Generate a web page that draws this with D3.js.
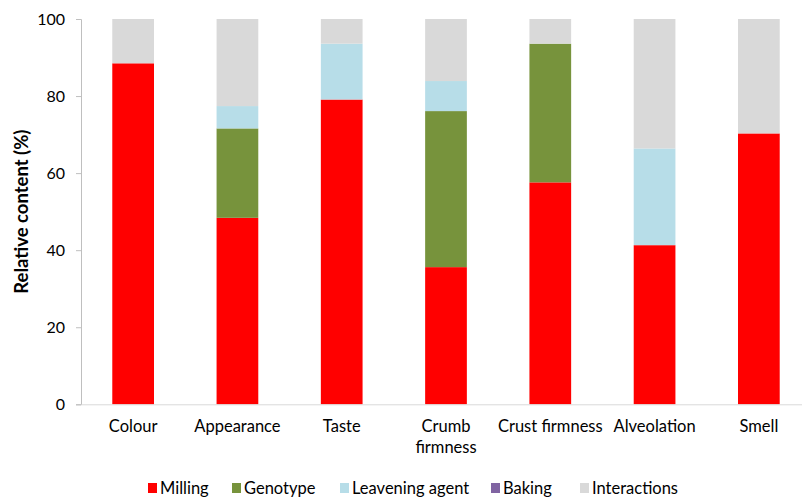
<!DOCTYPE html>
<html>
<head>
<meta charset="utf-8">
<script src="https://cdn.jsdelivr.net/npm/d3@7"></script>
<style>
  body { margin: 0; background: #fff; }
  svg text { font-family: Lato, "Open Sans", sans-serif; fill: #000; }
</style>
</head>
<body>
<div id="chart"></div>
<script>
(function(d3) {
  'use strict';

  var categories = ['Colour', 'Appearance', 'Taste', 'Crumb firmness', 'Crust firmness', 'Alveolation', 'Smell'];
  var series = ['Milling', 'Genotype', 'Leavening agent', 'Baking', 'Interactions'];
  var milling = [88.5, 48.4, 79.1, 35.6, 57.6, 41.3, 70.3];
  var genotype = [0, 23.2, 0, 40.5, 36.0, 0, 0];
  var leavening = [0, 5.8, 14.5, 7.8, 0, 25.1, 0];
  var baking = [0, 0, 0, 0, 0, 0, 0];
  var interactions = [11.5, 22.6, 6.4, 16.1, 6.4, 33.6, 29.7];
  var yTicks = [0, 20, 40, 60, 80, 100];

  var colorMap = {
    'Milling': '#ff0000',
    'Genotype': '#77933c',
    'Leavening agent': '#b7dde8',
    'Baking': '#8064a2',
    'Interactions': '#d9d9d9'
  };

  var width = 802, height = 498;
  var left = 81, right = 811, top = 19, bottom = 404.3;
  var fontSize = '16.5px';

  var rows = categories.map(function(c, i) {
    return {
      cat: c,
      'Milling': milling[i],
      'Genotype': genotype[i],
      'Leavening agent': leavening[i],
      'Baking': baking[i],
      'Interactions': interactions[i]
    };
  });

  var svg = d3.select('#chart').append('svg')
    .attr('width', width)
    .attr('height', height);

  var x = d3.scaleBand().domain(categories).range([left, right]).paddingInner(0.6).paddingOuter(0.3);
  var y = d3.scaleLinear().domain([0, 100]).range([bottom, top]);

  var stacked = d3.stack().keys(series)(rows);

  // bars
  svg.append('g').selectAll('g').data(stacked).enter().append('g')
    .attr('fill', function(d) { return colorMap[d.key]; })
    .selectAll('rect').data(function(d) { return d; }).enter().append('rect')
    .attr('x', function(d) { return x(d.data.cat); })
    .attr('width', x.bandwidth())
    .attr('y', function(d) { return y(d[1]); })
    .attr('height', function(d) { return y(d[0]) - y(d[1]); });

  // y axis
  var yAxis = svg.append('g')
    .attr('transform', 'translate(' + left + ',0)')
    .call(d3.axisLeft(y).tickValues(yTicks).tickSize(5).tickPadding(11));
  yAxis.select('.domain').attr('stroke', '#bfbfbf');
  yAxis.selectAll('.tick line').attr('stroke', '#bfbfbf');
  yAxis.selectAll('.tick text').style('font-size', '16px');

  // x axis
  var xAxis = svg.append('g')
    .attr('transform', 'translate(0,' + bottom + ')')
    .call(d3.axisBottom(x).tickSize(0).tickPadding(16));
  xAxis.select('.domain').attr('stroke', '#d9d9d9');
  xAxis.selectAll('.tick text').style('font-size', fontSize)
    .each(function(d) {
      if (d === 'Crumb firmness') {
        var t = d3.select(this);
        t.text(null);
        t.append('tspan').attr('x', 0).attr('dy', '0.71em').text('Crumb');
        t.append('tspan').attr('x', 0).attr('dy', '1.25em').text('firmness');
        t.attr('dy', null);
      }
    });

  // y title
  svg.append('text')
    .attr('transform', 'translate(28,' + ((top + bottom) / 2) + ') rotate(-90)')
    .attr('text-anchor', 'middle')
    .style('font-size', '18.5px')
    .style('font-weight', 'bold')
    .text('Relative content (%)');

  // legend
  var legendX = [148, 232, 340, 491, 580];
  var lg = svg.append('g').selectAll('g').data(series).enter().append('g')
    .attr('transform', function(d, i) { return 'translate(' + legendX[i] + ',488)'; });
  lg.append('rect')
    .attr('x', 0).attr('y', -5)
    .attr('width', 9).attr('height', 10)
    .attr('fill', function(d) { return colorMap[d]; });
  lg.append('text')
    .attr('x', 12).attr('dy', '0.35em')
    .style('font-size', fontSize)
    .text(function(d) { return d; });
}(d3));
</script>
</body>
</html>
